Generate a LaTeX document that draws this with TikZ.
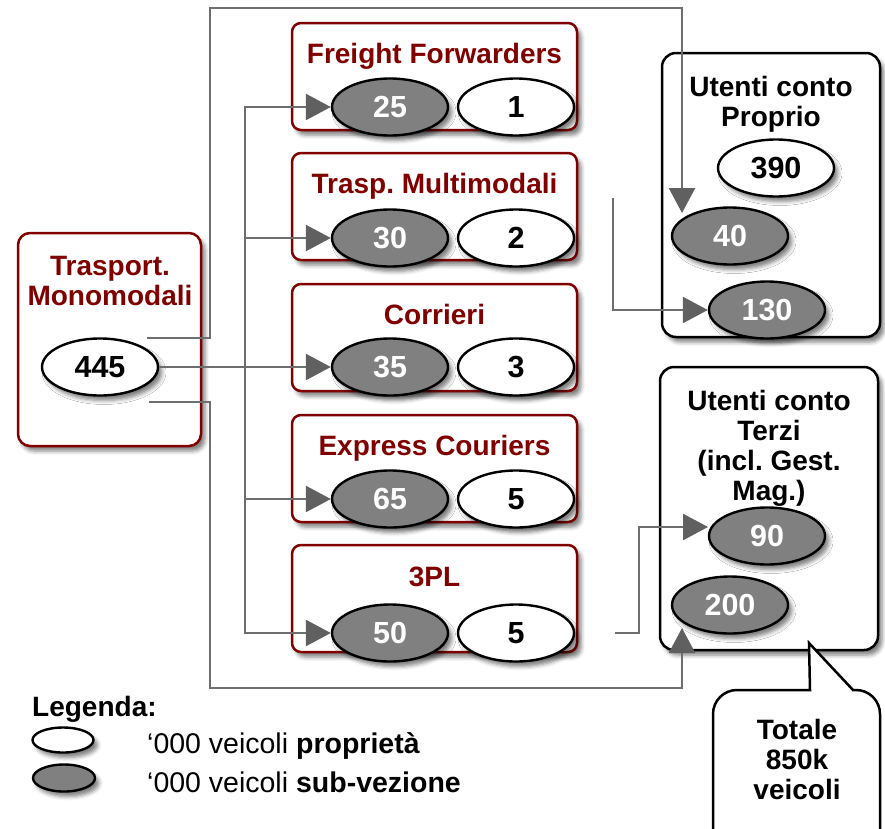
\documentclass[tikz,border=0pt]{standalone}
\usepackage{fontspec}
\setmainfont{Liberation Sans}
\usetikzlibrary{shapes.geometric,arrows.meta,shadows.blur}
\definecolor{mred}{RGB}{128,0,0}
\definecolor{egray}{RGB}{128,128,128}
\definecolor{lgray}{RGB}{110,110,110}
\definecolor{agray}{RGB}{96,96,96}
\newcommand{\mlines}[1]{\begin{tabular}[t]{@{}c@{}}#1\end{tabular}}
\frenchspacing
\begin{document}
\frenchspacing
\begin{tikzpicture}[x=1pt,y=-1pt,
  shd/.style={blur shadow={shadow xshift=4pt,shadow yshift=-5pt,shadow blur radius=4pt,shadow opacity=50}},
  catbox/.style={draw=mred,line width=2.5pt,fill=white,rounded corners=9pt,minimum width=285pt,minimum height=107pt,inner sep=0pt,shd},
  userbox/.style={draw=black,line width=2.5pt,fill=white,rounded corners=14pt,inner sep=0pt,shd},
  ttl/.style={font=\fontsize{28}{30}\selectfont\bfseries,text=mred,anchor=base,inner sep=0pt},
  hd/.style={font=\fontsize{28}{30}\selectfont\bfseries,anchor=base,inner sep=0pt},
  ell/.style={ellipse,draw=black,line width=2.4pt,minimum width=116pt,minimum height=57pt,inner sep=0pt,font=\fontsize{30.5}{32}\selectfont\bfseries,shd},
  ownell/.style={ell,fill=white},
  subell/.style={ell,fill=egray,text=white},
  conn/.style={draw=lgray,line width=2.5pt},
  arr/.style={conn,-{Triangle[length=25pt,width=26pt,fill=agray,color=agray]}},
  legtxt/.style={font=\fontsize{28.5}{30}\selectfont,anchor=base west,inner sep=0pt}
]
\useasboundingbox (0,0) rectangle (885,828);
\clip (0,0) rectangle (885,828);

% category boxes
\node[catbox] (bff) at (434.5,76.5) {};
\node[catbox] (btm) at (434.5,206.5) {};
\node[catbox] (bco) at (434.5,337.5) {};
\node[catbox] (bex) at (434.5,468.5) {};
\node[catbox] (b3p) at (434.5,598.5) {};
\node[ttl] (tff) at (434.5,63) {Freight Forwarders};
\node[ttl] (ttm) at (434.5,193) {Trasp. Multimodali};
\node[ttl] (tco) at (434.5,324) {Corrieri};
\node[ttl] (tex) at (434.5,455) {Express Couriers};
\node[ttl] (t3p) at (434.5,586) {3PL};

% Trasport. Monomodali
\node[draw=mred,line width=2.5pt,fill=white,rounded corners=12pt,minimum width=183pt,minimum height=213pt,inner sep=0pt,shd] (bmono) at (109.5,339.5) {};
\node[ttl] (tmono) at (110,275) {\mlines{Trasport.\\Monomodali}};

% user boxes
\node[userbox,minimum width=218pt,minimum height=284pt] (bprop) at (771,195) {};
\node[hd] (tprop) at (771,96) {\mlines{Utenti conto\\Proprio}};
\node[userbox,minimum width=218pt,minimum height=283pt] (bterz) at (769,508.5) {};
\node[hd] (tterz) at (769,410) {\mlines{Utenti conto\\Terzi\\(incl. Gest.\\Mag.)}};

% ellipses
\node[ownell] (e445) at (100,367) {445};
\node[subell] (e25) at (390,107) {25};
\node[ownell] (e1) at (516,107) {1};
\node[subell] (e30) at (390,238) {30};
\node[ownell] (e2) at (516,238) {2};
\node[subell] (e35) at (390,367) {35};
\node[ownell] (e3) at (516,367) {3};
\node[subell] (e65) at (390,499) {65};
\node[ownell] (e5a) at (516,499) {5};
\node[subell] (e50) at (390,633) {50};
\node[ownell] (e5b) at (516,633) {5};
\node[ownell] (e390) at (776,168) {390};
\node[subell] (e40) at (730,236) {40};
\node[subell] (e130) at (767,310) {130};
\node[subell] (e90) at (767,536) {90};
\node[subell] (e200) at (730,605) {200};

% connectors
\coordinate (j) at (245,367);
\draw[arr] (e445.east) -- (e35.west);
\draw[arr] (j) |- (e25.west);
\draw[arr] (j) |- (e30.west);
\draw[arr] (j) |- (e65.west);
\draw[arr] (j) |- (e50.west);
\coordinate (s1) at (147,338);
\coordinate (t40) at (682,213);
\draw[arr] (s1) -- (210,338) -- (210,8) -| (t40);
\coordinate (s2) at (149,402);
\coordinate (t200) at (682,628);
\draw[arr] (s2) -- (210,402) -- (210,688) -| (t200);
\coordinate (f1) at (613,198);
\draw[arr] (f1) |- (e130.west);
\coordinate (f2) at (615,633);
\coordinate (t90) at (708,527);
\draw[arr] (f2) -- (639,633) |- (t90);

% callout
\draw[black,line width=2.5pt,fill=white] (760,690) -- (810,690) -- (809,643) -- (853,690) [rounded corners=24pt] -- (880,690) -- (880,860) -- (713,860) -- (713,690) [sharp corners] -- cycle;
\node[hd] (ttot) at (797,739) {\mlines{Totale\\850k\\veicoli}};

% legend
\node[hd,anchor=base west] (tleg) at (32,716) {Legenda:};
\node[ell,fill=white,minimum width=61pt,minimum height=25pt] (lw) at (63,740) {};
\node[ell,fill=egray,minimum width=62pt,minimum height=27pt] (lg) at (64,778) {};
\node[legtxt] (lt1) at (147,753) {‘000 veicoli \textbf{proprietà}};
\node[legtxt] (lt2) at (147,792) {‘000 veicoli \textbf{sub-vezione}};
\end{tikzpicture}
\end{document}
